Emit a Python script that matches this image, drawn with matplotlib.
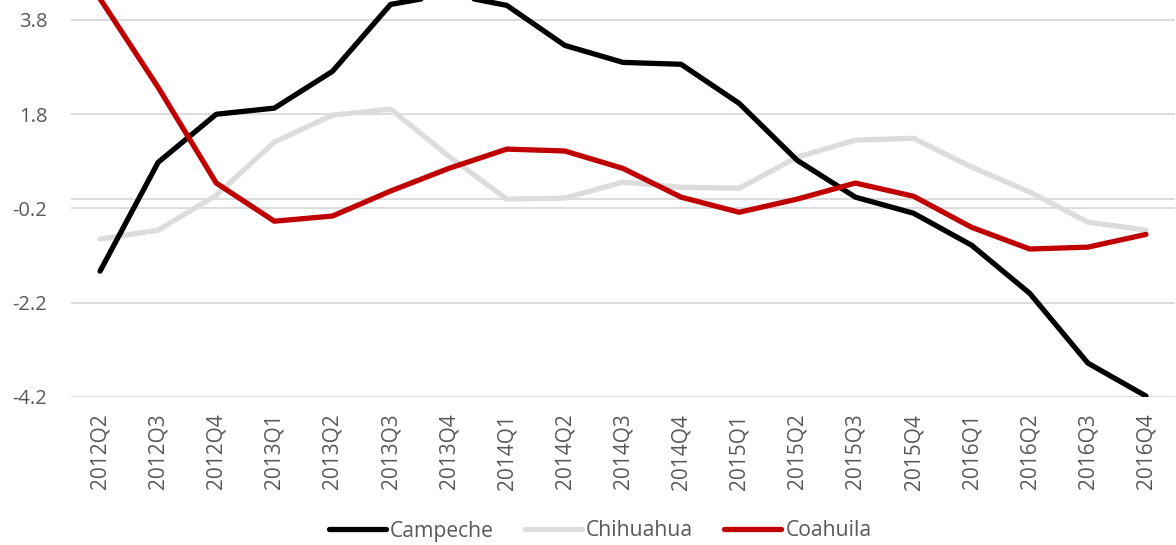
import numpy as np
import matplotlib
matplotlib.use('Agg')
import matplotlib.pyplot as plt

quarters = ['2012Q2', '2012Q3', '2012Q4', '2013Q1', '2013Q2', '2013Q3', '2013Q4',
            '2014Q1', '2014Q2', '2014Q3', '2014Q4', '2015Q1', '2015Q2', '2015Q3',
            '2015Q4', '2016Q1', '2016Q2', '2016Q3', '2016Q4']

campeche = [-1.53, 0.78, 1.80, 1.93, 2.71, 4.13, 4.35, 4.11, 3.26, 2.90, 2.86,
            2.03, 0.82, 0.04, -0.30, -0.98, -2.00, -3.48, -4.18]
chihuahua = [-0.85, -0.66, 0.08, 1.21, 1.78, 1.91, 0.91, 0.00, 0.02, 0.36, 0.25,
             0.23, 0.89, 1.25, 1.29, 0.68, 0.15, -0.49, -0.66]
coahuila = [4.25, 2.37, 0.34, -0.47, -0.36, 0.17, 0.65, 1.06, 1.02, 0.65, 0.04,
            -0.28, 0.00, 0.34, 0.06, -0.60, -1.06, -1.02, -0.75]

yticks = [3.8, 1.8, -0.2, -2.2, -4.2]

plt.rcParams['font.family'] = ['Open Sans', 'DejaVu Sans']

fig = plt.figure(figsize=(11.76, 5.45), dpi=100, facecolor='white')
ax = fig.add_axes([71 / 1176, 1 - 397 / 545, 1104 / 1176, 397 / 545])

x = np.arange(len(quarters))
grid_color = '#d9d9d9'
for t in yticks:
    ax.axhline(t, color=grid_color, linewidth=1.3, zorder=1)
ax.axhline(0, color=grid_color, linewidth=1.3, zorder=1)

style = dict(linewidth=3.8, solid_capstyle='round', solid_joinstyle='round')
ax.plot(x, campeche, color='black', label='Campeche', zorder=3, **style)
ax.plot(x, chihuahua, color='#dcdcdc', label='Chihuahua', zorder=2, **style)
ax.plot(x, coahuila, color='#c00000', label='Coahuila', zorder=4, **style)

ax.set_xlim(-0.5, len(quarters) - 0.5)
ax.set_ylim(-4.2, 4.224)
ax.set_yticks(yticks)
ax.set_yticklabels([str(t) for t in yticks])
ax.set_xticks(x)
ax.set_xticklabels(quarters, rotation=90)
ax.tick_params(axis='y', length=0, pad=17, labelsize=14.5, labelcolor='#595959')
ax.tick_params(axis='x', length=0, pad=12, labelsize=15, labelcolor='#595959')
for s in ax.spines.values():
    s.set_visible(False)

leg = fig.legend(loc='center', bbox_to_anchor=(600 / 1176, 1 - 531 / 545), ncol=3,
                 frameon=False, fontsize=15.2, handlelength=2.7, handletextpad=0.2,
                 columnspacing=1.47)
for t in leg.get_texts():
    t.set_color('#595959')

fig.savefig('out.png', dpi=100, facecolor='white')
